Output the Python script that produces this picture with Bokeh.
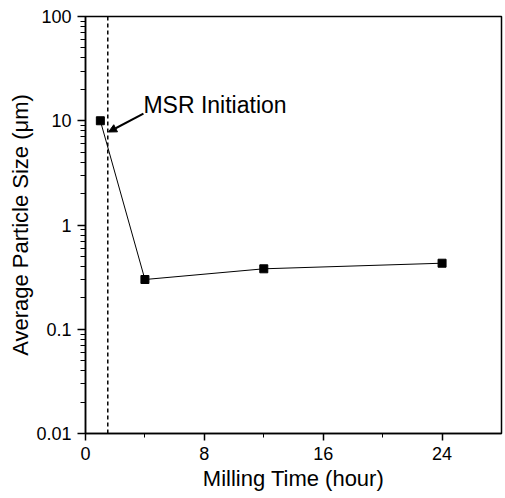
from bokeh.plotting import figure
from bokeh.models import FixedTicker, CustomJSTickFormatter, Span, Arrow, NormalHead, Label
from bokeh.embed import file_html
from bokeh.resources import INLINE

# data
milling_time = [1, 4, 12, 24]
particle_size = [10, 0.3, 0.38, 0.43]
x_ticks = [0, 8, 16, 24]
x_minor = [4, 12, 20]
y_ticks = [0.01, 0.1, 1, 10, 100]
msr_time = 1.5
annot_text = "MSR Initiation"
annot_xy = (3.9, 14.3)
arrow_start = (3.9, 11.7)
arrow_end = (1.55, 7.8)

FONT = "Liberation Sans"

p = figure(width=505, height=498, x_range=(0, 28), y_range=(0.01, 100),
           y_axis_type="log", output_backend="svg", toolbar_location=None,
           min_border_left=85, min_border_right=4, min_border_top=16,
           min_border_bottom=65)
p.grid.visible = False
p.background_fill_color = "white"
p.border_fill_color = "white"
p.outline_line_color = "black"
p.outline_line_width = 1.5
p.outline_line_alpha = 1

y_minor = [m * d for d in y_ticks[:-1] for m in range(2, 10)]

p.xaxis.ticker = FixedTicker(ticks=x_ticks, minor_ticks=x_minor)
p.yaxis.ticker = FixedTicker(ticks=y_ticks, minor_ticks=y_minor)
p.yaxis.formatter = CustomJSTickFormatter(code="return String(tick);")

for ax in (p.xaxis[0], p.yaxis[0]):
    ax.axis_line_color = "black"
    ax.axis_line_width = 1.5
    ax.major_tick_line_color = "black"
    ax.major_tick_line_width = 1.5
    ax.minor_tick_line_color = "black"
    ax.minor_tick_line_width = 1
    ax.major_tick_in = 0
    ax.minor_tick_in = 0
    ax.major_label_text_font = FONT
    ax.major_label_text_font_size = "18px"
    ax.major_label_text_color = "black"
    ax.axis_label_text_font = FONT
    ax.axis_label_text_font_size = "22px"
    ax.axis_label_text_font_style = "normal"
    ax.axis_label_text_color = "black"

p.xaxis.major_tick_out = 7
p.xaxis.minor_tick_out = 4
p.yaxis.major_tick_out = 8
p.yaxis.minor_tick_out = 5
p.xaxis.major_label_standoff = 6
p.yaxis.major_label_standoff = 6
p.xaxis.axis_label = "Milling Time (hour)"
p.yaxis.axis_label = "Average Particle Size (\u03bcm)"
p.xaxis.axis_label_standoff = 3
p.yaxis.axis_label_standoff = 0

vline = Span(location=msr_time, dimension="height", line_color="black",
             line_dash="4 3", line_width=1.5)
p.add_layout(vline)

p.line(milling_time, particle_size, line_color="black", line_width=1)
p.scatter(milling_time, particle_size, marker="square", size=8,
          fill_color="black", line_color="black")

p.add_layout(Arrow(end=NormalHead(size=8, fill_color="black", line_color="black", line_width=1),
                   x_start=arrow_start[0], y_start=arrow_start[1],
                   x_end=arrow_end[0], y_end=arrow_end[1],
                   line_color="black", line_width=2))
p.add_layout(Label(x=annot_xy[0], y=annot_xy[1], text=annot_text,
                   text_font=FONT, text_font_size="23px", text_color="black",
                   text_baseline="middle", text_align="left"))

open("out.html", "w").write(file_html(p, INLINE))
